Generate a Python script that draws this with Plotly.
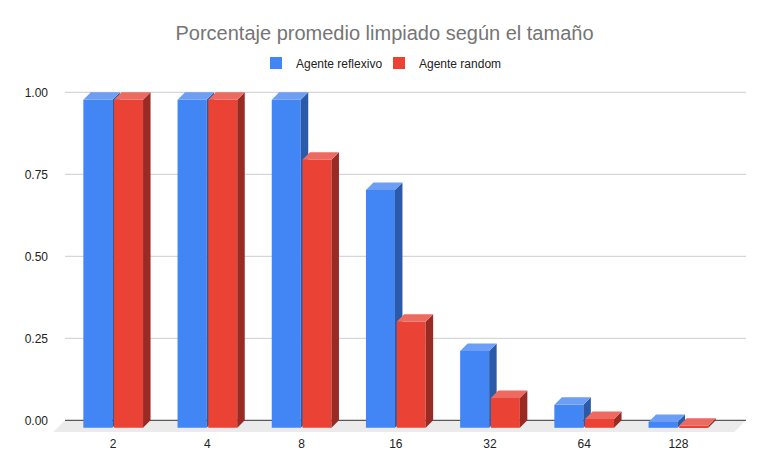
import plotly.graph_objects as go

# datos
tamanos = ["2", "4", "8", "16", "32", "64", "128"]
agente_reflexivo = [1.0, 1.0, 1.0, 0.725, 0.234, 0.070, 0.018]
agente_random = [1.0, 1.0, 0.817, 0.323, 0.091, 0.027, 0.006]
y_ticks = [0, 0.25, 0.5, 0.75, 1.0]

# la pagina deja 8px de margen en el body, asi que la figura empieza en (8, 8)
OFF = 8
W, H = 768 - OFF, 471 - OFF

# geometria del "3D" (en pixeles -> unidades de eje)
PX_CAT = 94.2   # px por categoria
PX_VAL = 328.0  # px por unidad en y
depth_px = 7.5
floor_px = 12.0
dx = depth_px / PX_CAT
dy = depth_px / PX_VAL
bar_w = 29.0 / PX_CAT
gap = 0.85 / PX_CAT

margin = dict(l=53 - OFF, r=22, t=88 - OFF, b=39)
plot_w = W - margin["l"] - margin["r"]
plot_h = H - margin["t"] - margin["b"]
x_lo = (53 - 113.2) / PX_CAT
x_hi = x_lo + plot_w / PX_CAT
y_lo = -(432 - 420.3) / PX_VAL
y_hi = (420.3 - 88) / PX_VAL

series = [
    ("Agente reflexivo", agente_reflexivo, -gap - bar_w, "#4285F4", "#6D9EF6", "#2B5AA8", "x", "y"),
    ("Agente random", agente_random, gap, "#EA4335", "#EE6A60", "#9A2A24", "x2", "y2"),
]

fig = go.Figure()

for name, vals, x_off, c_front, c_top, c_side, xa, ya in series:
    # cara frontal = barra real
    fig.add_trace(go.Bar(
        x=[i + x_off + bar_w / 2 for i in range(len(vals))],
        y=vals, base=-dy, width=bar_w, name=name,
        marker=dict(color=c_front, line=dict(width=0)),
        xaxis=xa, yaxis=ya,
    ))
    side_x, side_y, top_x, top_y = [], [], [], []
    for i, v in enumerate(vals):
        xl = i + x_off
        xr = xl + bar_w
        yt = v - dy
        side_x += [xr, xr + dx, xr + dx, xr, xr, None]
        side_y += [-dy, 0, v, yt, -dy, None]
        top_x += [xl, xr, xr + dx, xl + dx, xl, None]
        top_y += [yt, yt, v, v, yt, None]
    for fx, fy, col in [(side_x, side_y, c_side), (top_x, top_y, c_top)]:
        fig.add_trace(go.Scatter(
            x=fx, y=fy, mode="lines", fill="toself", fillcolor=col,
            line=dict(width=0, color=col), showlegend=False, hoverinfo="skip",
            xaxis=xa, yaxis=ya,
        ))

# piso gris
fx = floor_px / PX_CAT
fy = floor_px / PX_VAL
shapes = [dict(
    type="path", xref="x", yref="y", layer="below", line=dict(width=0), fillcolor="#EBEBEB",
    path=f"M {x_lo + fx},0 L {x_hi},0 L {x_hi - fx},{-fy} L {x_lo},{-fy} Z",
)]
# lineas de la grilla en el plano de fondo
for t in y_ticks:
    shapes.append(dict(
        type="line", xref="x", yref="y", layer="below",
        x0=x_lo + fx, x1=x_hi, y0=t, y1=t,
        line=dict(color="#333333" if t == 0 else "#CCCCCC", width=1),
    ))

fig.update_layout(
    width=W, height=H,
    margin=margin,
    paper_bgcolor="white", plot_bgcolor="white",
    font=dict(family="Liberation Sans, Arial, sans-serif", size=12, color="#444444"),
    title=dict(text="Porcentaje promedio limpiado según el tamaño",
               x=(384.5 - OFF) / W, xanchor="center",
               y=1 - (33 - OFF) / H, yanchor="middle",
               font=dict(size=20, color="#757575")),
    legend=dict(orientation="h", x=(256 - 53) / plot_w, xanchor="left",
                y=(432 - 63) / plot_h, yanchor="middle", entrywidth=78,
                font=dict(size=12, color="#222222")),
    barmode="overlay",
    hovermode=False,
    shapes=shapes,
    xaxis=dict(range=[x_lo, x_hi], tickvals=list(range(len(tamanos))), ticktext=tamanos,
               showgrid=False, zeroline=False, showline=False, ticks="", ticklabelstandoff=3,
               tickfont=dict(size=12, color="#222222")),
    yaxis=dict(range=[y_lo, y_hi], tickvals=y_ticks, tickformat=".2f",
               showgrid=False, zeroline=False, showline=False, ticks="", ticklabelstandoff=4,
               tickfont=dict(size=12, color="#222222")),
    xaxis2=dict(range=[x_lo, x_hi], overlaying="x", visible=False),
    yaxis2=dict(range=[y_lo, y_hi], overlaying="y", visible=False),
)

fig.write_html("out.html")
